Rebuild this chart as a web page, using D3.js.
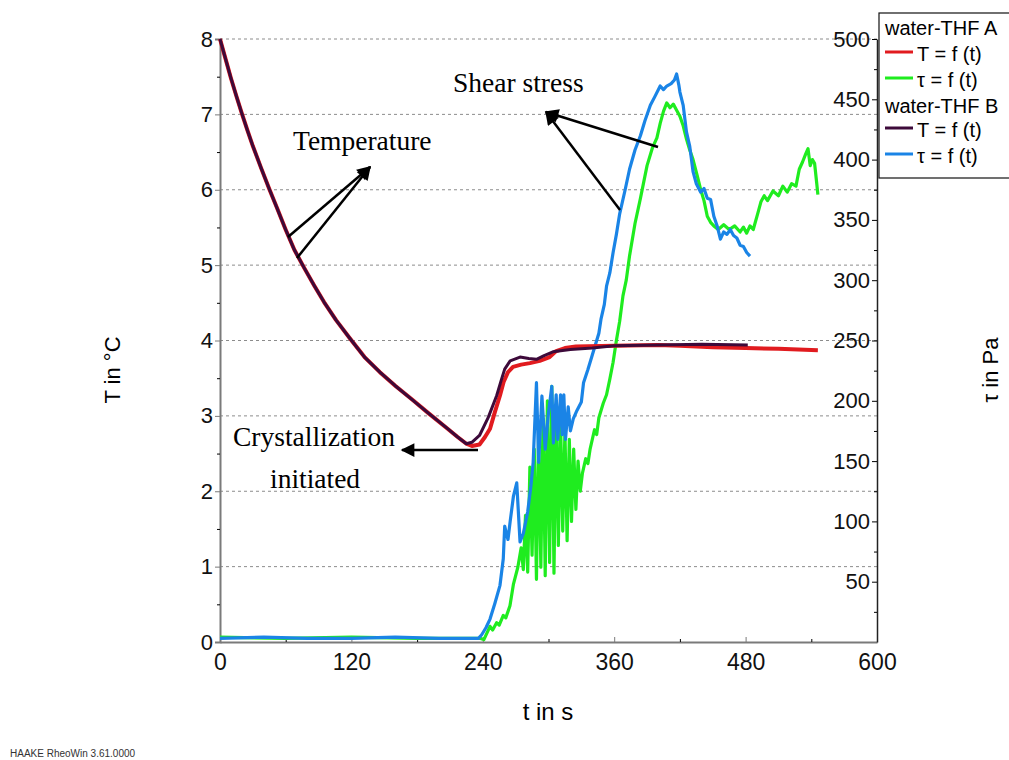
<!DOCTYPE html>
<html>
<head>
<meta charset="utf-8">
<script src="https://cdn.jsdelivr.net/npm/d3@7"></script>
<style>
    body { margin: 0; background: #fff; }
    svg { display: block; }
    .tick text { font-family: "Liberation Sans", Arial, sans-serif; }
</style>
</head>
<body>
<div id="chart"></div>
<script>
// values: [time in s, value]
const tempA = [[0, 8], [5, 7.74], [10, 7.48], [15, 7.24], [20, 7.01], [25, 6.79], [30, 6.58], [37.5, 6.29],
    [45, 6.01], [52, 5.76], [60, 5.47], [68, 5.2], [77, 4.96], [86, 4.73], [95, 4.51], [106, 4.27], [118, 4.04],
    [132, 3.78], [146, 3.58], [160, 3.4], [176, 3.21], [190, 3.04], [207, 2.84], [217, 2.72], [225, 2.63],
    [230, 2.6], [237, 2.62], [242, 2.72], [246.6, 2.83], [251, 3.05], [255.7, 3.27], [259, 3.45], [263, 3.58],
    [267.6, 3.65], [275, 3.68], [283, 3.7], [292, 3.73], [301, 3.78], [307, 3.86], [315, 3.9], [325, 3.92],
    [360, 3.93], [400, 3.94], [420, 3.93], [450, 3.91], [480, 3.9], [510, 3.89], [546, 3.87]];

const tempB = [[0, 8], [5, 7.74], [10, 7.48], [15, 7.24], [20, 7.01], [25, 6.79], [30, 6.58], [37.5, 6.29],
    [45, 6.01], [52, 5.76], [60, 5.47], [68, 5.2], [77, 4.96], [86, 4.73], [95, 4.51], [106, 4.27], [118, 4.04],
    [132, 3.78], [146, 3.58], [160, 3.4], [176, 3.21], [190, 3.04], [207, 2.84], [217, 2.72], [225, 2.63],
    [230, 2.65], [237, 2.74], [245, 2.98], [252.7, 3.27], [257, 3.48], [260, 3.62], [265, 3.73], [274, 3.78],
    [282, 3.76], [289, 3.75], [296, 3.8], [304, 3.85], [320, 3.88], [340, 3.9], [360, 3.93], [400, 3.94],
    [440, 3.95], [482, 3.94]];

const stressA = [[0, 4], [60, 3], [120, 4], [180, 3], [238, 3], [241, 2], [246.6, 13], [249, 10], [252.6, 16],
    [255, 14], [258.7, 22], [261, 20], [264.8, 30], [268, 48], [272, 62], [275, 78], [277, 60], [279, 105],
    [281, 58], [283, 145], [285, 72], [287, 160], [289, 52], [291, 175], [293, 62], [295, 185], [297, 55],
    [299, 200], [301, 66], [303, 212], [305, 57], [307, 195], [309, 80], [311, 185], [313, 92], [315, 175],
    [317, 84], [319, 168], [321, 100], [323, 160], [325, 110], [327, 150], [329, 125], [331, 140], [334, 152],
    [336, 148], [338, 160], [342, 176], [344, 172], [346, 186], [350, 198], [353, 205], [356, 218], [359, 232],
    [362, 250], [365, 266], [368, 287], [371, 300], [374, 320], [379, 347], [384, 368], [390, 395], [395, 410],
    [399, 418], [402, 430], [405, 440], [408, 447], [411, 443], [414, 446], [417, 441], [420, 436], [423, 428],
    [426, 417], [429, 408], [432, 400], [436, 386], [439, 375], [442, 366], [445, 353], [448, 348], [451, 345],
    [455, 342], [460, 346], [465, 342], [470, 345], [475, 340], [478, 344], [481, 339], [484, 345], [487, 342],
    [491, 355], [494, 365], [497, 370], [500, 366], [505, 374], [510, 370], [514, 378], [518, 373], [522, 380],
    [526, 378], [529, 392], [532, 398], [535, 405], [537, 409], [539, 395], [541, 400], [543, 397], [545, 380],
    [546, 371]];

const stressB = [[0, 3], [40, 4], [80, 3], [120, 3], [160, 4], [200, 3], [236, 3], [239, 6], [243, 12],
    [246.6, 19], [251, 32], [255.7, 47], [258.7, 69], [260, 96], [261.5, 90], [263, 85], [265, 100], [268, 121],
    [271, 132], [274, 83], [277, 90], [281, 108], [284, 130], [286, 149], [289, 215], [291, 149], [294, 204],
    [297, 160], [300, 190], [303, 212], [304.5, 165], [307, 205], [308.5, 168], [311, 205], [312.5, 172],
    [314, 205], [315.5, 168], [318, 195], [320, 175], [322.6, 185], [326, 192], [330, 199], [332, 215],
    [336, 226], [340, 238], [344, 250], [346, 256], [348, 268], [351, 280], [353, 295], [356, 306], [359, 323],
    [362, 338], [365, 355], [370, 375], [374, 392], [379, 408], [384, 420], [388, 432], [393, 445], [397, 452],
    [402, 461], [405, 458], [408, 461], [412, 463], [415, 466], [417, 471], [419, 462], [420, 456], [423, 445],
    [426, 423], [429, 411], [432, 390], [435, 380], [439, 373], [442, 376], [445, 368], [448, 367], [451, 353],
    [454, 345], [457, 334], [460, 340], [463, 338], [466, 342], [469, 337], [472, 335], [475, 329], [478, 328],
    [481, 323], [484, 320]];

const timeTicks = [0, 120, 240, 360, 480, 600];
const tempTicks = [0, 1, 2, 3, 4, 5, 6, 7, 8];
const stressTicks = [50, 100, 150, 200, 250, 300, 350, 400, 450, 500];

const legendItems = [
    { group: 'water-THF A' },
    { label: 'T = f (t)', color: '#e11b1f' },
    { label: '\u03c4 = f (t)', color: '#1fec1f' },
    { group: 'water-THF B' },
    { label: 'T = f (t)', color: '#3d0a3a' },
    { label: '\u03c4 = f (t)', color: '#1a84e6' }
];

// plot frame in page pixels
const plotLeft = 220, plotRight = 877, plotTop = 39, plotBottom = 642;

const svg = d3.select('#chart')
    .append('svg')
    .attr('width', 1009)
    .attr('height', 760);

const x = d3.scaleLinear().domain([0, 600]).range([plotLeft, plotRight]);
const yT = d3.scaleLinear().domain([0, 8]).range([plotBottom, plotTop]);
const yS = d3.scaleLinear().domain([0, 500]).range([plotBottom, plotTop]);

// dashed grid lines on the temperature ticks
svg.append('g')
    .selectAll('line')
    .data(tempTicks.filter(d => d > 0))
    .join('line')
    .attr('x1', plotLeft)
    .attr('x2', plotRight)
    .attr('y1', d => yT(d))
    .attr('y2', d => yT(d))
    .attr('stroke', '#8c8c8c')
    .attr('stroke-width', 1)
    .attr('stroke-dasharray', '3,3');

// left axis (temperature)
const axisLeft = svg.append('g')
    .attr('transform', 'translate(' + plotLeft + ',0)')
    .call(d3.axisLeft(yT).tickValues(tempTicks).tickSize(5).tickPadding(2));
svg.append('g')
    .attr('transform', 'translate(' + plotLeft + ',0)')
    .call(d3.axisLeft(yT).tickValues(d3.range(0.5, 8, 1)).tickSize(3).tickFormat(''))
    .call(g => g.select('.domain').remove());

// bottom axis (time), ticks point inward
const axisBottom = svg.append('g')
    .attr('transform', 'translate(0,' + plotBottom + ')')
    .call(d3.axisBottom(x).tickValues(timeTicks).tickSizeInner(-5).tickSizeOuter(0).tickPadding(12));
svg.append('g')
    .attr('transform', 'translate(0,' + plotBottom + ')')
    .call(d3.axisBottom(x).tickValues(d3.range(60, 600, 120)).tickSizeInner(-3).tickSizeOuter(0).tickFormat(''))
    .call(g => g.select('.domain').remove());

// right axis (shear stress), labels inside the frame
const axisRight = svg.append('g')
    .attr('transform', 'translate(' + plotRight + ',0)')
    .call(d3.axisLeft(yS).tickValues(stressTicks).tickSizeInner(5).tickSizeOuter(0).tickPadding(2));
svg.append('g')
    .attr('transform', 'translate(' + plotRight + ',0)')
    .call(d3.axisLeft(yS).tickValues(d3.range(25, 500, 50)).tickSizeInner(3).tickSizeOuter(0).tickFormat(''))
    .call(g => g.select('.domain').remove());

[axisLeft, axisBottom].forEach(g => {
    g.select('.domain').attr('stroke', '#7a7a7a').attr('stroke-width', 2);
    g.selectAll('.tick line').attr('stroke', '#7a7a7a');
});
axisRight.select('.domain').attr('stroke', '#222').attr('stroke-width', 1.5);
svg.selectAll('.tick text')
    .attr('fill', '#111')
    .style('font-size', '22px');
axisBottom.selectAll('.tick text').style('font-size', '23px');

// curves
const line = d3.line()
    .x(d => x(d[0]));

const series = [
    { data: stressA, y: yS, color: '#1fec1f', w: 3.2 },
    { data: stressB, y: yS, color: '#1a84e6', w: 3.2 },
    { data: tempA, y: yT, color: '#e11b1f', w: 4 },
    { data: tempB, y: yT, color: '#3d0a3a', w: 3 }
];
series.forEach(s => {
    svg.append('path')
        .datum(s.data)
        .attr('fill', 'none')
        .attr('stroke', s.color)
        .attr('stroke-width', s.w)
        .attr('stroke-linejoin', 'round')
        .attr('d', line.y(d => s.y(d[1])));
});

// axis titles
svg.append('text')
    .attr('transform', 'translate(120,370) rotate(-90)')
    .attr('text-anchor', 'middle')
    .style('font-family', '"Liberation Sans", Arial, sans-serif')
    .style('font-size', '22px')
    .text('T in \u00b0C');

svg.append('text')
    .attr('transform', 'translate(998,370) rotate(-90)')
    .attr('text-anchor', 'middle')
    .style('font-family', '"Liberation Sans", Arial, sans-serif')
    .style('font-size', '22px')
    .text('\u03c4 in Pa');

svg.append('text')
    .attr('x', 548)
    .attr('y', 720)
    .attr('text-anchor', 'middle')
    .style('font-family', '"Liberation Sans", Arial, sans-serif')
    .style('font-size', '24px')
    .text('t in s');

svg.append('text')
    .attr('x', 10)
    .attr('y', 757)
    .style('font-family', '"Liberation Sans", Arial, sans-serif')
    .style('font-size', '10px')
    .attr('fill', '#333')
    .text('HAAKE RheoWin 3.61.0000');

// legend
const legend = svg.append('g');
legend.append('rect')
    .attr('x', 879)
    .attr('y', 13)
    .attr('width', 150)
    .attr('height', 165)
    .attr('fill', '#fff')
    .attr('stroke', '#111')
    .attr('stroke-width', 1.2);
const rows = [35, 52, 78, 113, 128, 154];
legendItems.forEach((d, i) => {
    if (d.group) {
        legend.append('text')
            .attr('x', 885)
            .attr('y', rows[i])
            .style('font-family', '"Liberation Sans", Arial, sans-serif')
            .style('font-size', '20px')
            .text(d.group);
    } else {
        legend.append('line')
            .attr('x1', 885)
            .attr('x2', 913)
            .attr('y1', rows[i])
            .attr('y2', rows[i])
            .attr('stroke', d.color)
            .attr('stroke-width', 3);
        legend.append('text')
            .attr('x', 917)
            .attr('y', rows[i] + 9)
            .style('font-family', '"Liberation Sans", Arial, sans-serif')
            .style('font-size', '20px')
            .text(d.label);
    }
});

// annotations
svg.append('defs')
    .append('marker')
    .attr('id', 'head')
    .attr('viewBox', '0 0 10 10')
    .attr('refX', 9)
    .attr('refY', 5)
    .attr('markerWidth', 6.5)
    .attr('markerHeight', 5.5)
    .attr('orient', 'auto')
    .append('path')
    .attr('d', 'M0,0L10,5L0,10z')
    .attr('fill', '#000');

const arrows = [
    [288, 237, 370, 167], [297, 258, 370, 167],
    [658, 147, 546, 112], [620, 210, 546, 112],
    [478, 450, 402, 450]
];
svg.append('g')
    .selectAll('line')
    .data(arrows)
    .join('line')
    .attr('x1', d => d[0])
    .attr('y1', d => d[1])
    .attr('x2', d => d[2])
    .attr('y2', d => d[3])
    .attr('stroke', '#000')
    .attr('stroke-width', 2.5)
    .attr('marker-end', 'url(#head)');

const notes = [
    ['Shear stress', 453, 92],
    ['Temperature', 293, 150],
    ['Crystallization', 233, 446],
    ['initiated', 270, 488]
];
svg.append('g')
    .selectAll('text')
    .data(notes)
    .join('text')
    .attr('x', d => d[1])
    .attr('y', d => d[2])
    .style('font-family', '"Liberation Serif", "Times New Roman", serif')
    .style('font-size', '27.5px')
    .text(d => d[0]);
</script>
</body>
</html>
